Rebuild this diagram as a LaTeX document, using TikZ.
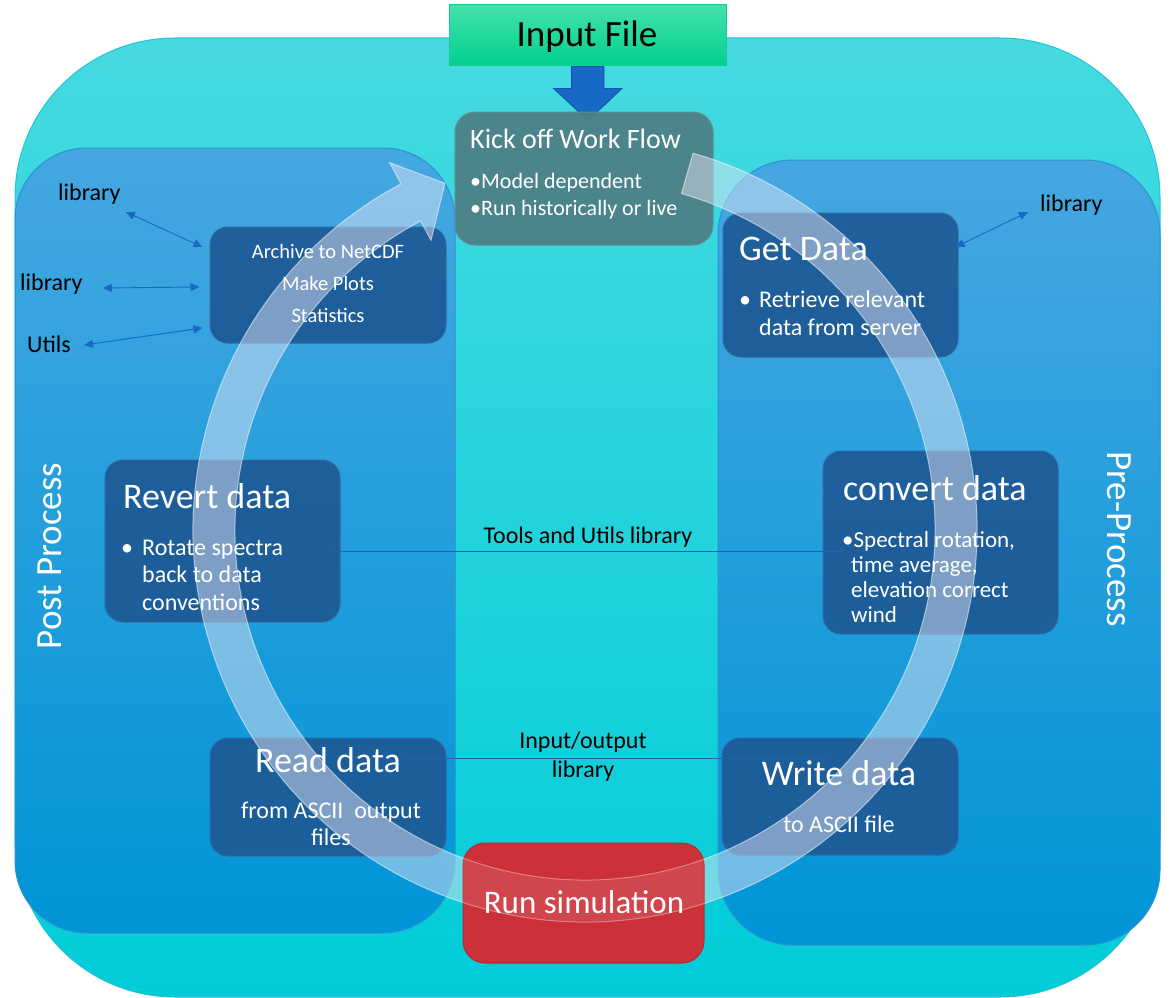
\documentclass[tikz,border=0pt]{standalone}
\usepackage{fontspec}
\setmainfont{Carlito}
\usetikzlibrary{calc,arrows.meta}
\definecolor{outerT}{HTML}{46DAE0}
\definecolor{outerB}{HTML}{00CCD8}
\definecolor{outerE}{HTML}{22C4D6}
\definecolor{panelT}{HTML}{45A7E1}
\definecolor{panelB}{HTML}{0095D7}
\definecolor{panelE}{HTML}{2A92D2}
\definecolor{boxblue}{HTML}{1D5A96}
\definecolor{boxedge}{HTML}{2E6AA4}
\definecolor{kickfill}{HTML}{4D7E84}
\definecolor{kickedge}{HTML}{5D8E94}
\definecolor{greenT}{HTML}{44E2AA}
\definecolor{greenB}{HTML}{00CF8E}
\definecolor{greenE}{HTML}{22C596}
\definecolor{redfill}{HTML}{CC3038}
\definecolor{rededge}{HTML}{B82A30}
\definecolor{arrowblue}{HTML}{1868C6}
\definecolor{arrowedge}{HTML}{0E57AA}
\definecolor{linkblue}{HTML}{1E62C0}
\definecolor{bandc}{HTML}{E8E6F4}
\newcommand\fsz[1]{\fontsize{#1}{#1}\selectfont}
\newcommand\bandpath{($(C)+(-74:392)$) arc[start angle=-74, end angle=242, radius=392]
  -- ($(C)+(242:416)$) -- ($(C)+(248:374)$) -- ($(C)+(242:328)$) -- ($(C)+(242:350)$)
  arc[start angle=242, end angle=-74, radius=350] -- cycle}
\begin{document}
\begin{tikzpicture}[x=1pt,y=-1pt,
  lbl/.style={inner sep=0, text=black, font=\fsz{24}},
  wtxt/.style={inner sep=0, text=white},
  boxstyle/.style={rounded corners=18pt, fill=boxblue, draw=boxedge, line width=1pt, fill opacity=0.93, inner sep=0},
  dbl/.style={{Triangle[length=9pt,width=8pt]}-{Triangle[length=9pt,width=8pt]}, draw=arrowblue, line width=0.9pt},
  linkline/.style={draw=linkblue, line width=0.9pt},
  bandstyle/.style={fill=bandc, fill opacity=0.48, draw=white, draw opacity=0.5, line width=1pt},
  bandonred/.style={fill=white, fill opacity=0.1, draw=white, draw opacity=0.35, line width=1pt}
]
\useasboundingbox (0,0) rectangle (1173,998);

% outer rounded background
\shade[top color=outerT, bottom color=outerB, draw=outerE, line width=1pt, rounded corners=160pt]
  (15,38) rectangle (1160,997);
% side panels
\shade[top color=panelT, bottom color=panelB, draw=panelE, line width=1pt, rounded corners=72pt]
  (15,148) rectangle (455,933);
\shade[top color=panelT, bottom color=panelB, draw=panelE, line width=1pt, rounded corners=75pt]
  (718,160) rectangle (1160,945);

% input file and arrow
\node[inner sep=0, minimum width=277pt, minimum height=61pt, top color=greenT, bottom color=greenB, draw=greenE, line width=1pt] (input) at (587.5,35.5) {};
\draw[fill=arrowblue, draw=arrowedge, line width=0.8pt]
  ($(input.south)+(-16,0)$) -- ++(0,22) -- ++(-18,0) -- ($(input.south)+(0.5,54)$)
  -- ($(input.south)+(34.5,22)$) -- ++(-18,0) -- ($(input.south)+(16.5,0)$) -- cycle;

% kick off
\node[rounded corners=20pt, fill=kickfill, draw=kickedge, line width=1pt, fill opacity=0.92, inner sep=0,
  minimum width=258pt, minimum height=133pt] (kick) at (584,178.5) {};

% process boxes
\node[boxstyle, minimum width=236pt, minimum height=116pt] (archive) at (328,285) {};
\node[boxstyle, minimum width=235pt, minimum height=162pt] (revert) at (222.5,541) {};
\node[boxstyle, minimum width=236pt, minimum height=118pt] (read) at (328,797) {};
\node[boxstyle, minimum width=235pt, minimum height=144pt] (getdata) at (840.5,285) {};
\node[boxstyle, minimum width=235pt, minimum height=183pt] (convert) at (940.5,542.5) {};
\node[boxstyle, minimum width=236pt, minimum height=117pt] (write) at (840,796.5) {};

% labels outside boxes
\node[lbl, anchor=base west] (lib1) at (58,200) {library};
\node[lbl, anchor=base west] (lib2) at (20,290) {library};
\node[lbl, anchor=base west] (utils) at (27,352) {Utils};
\node[lbl, anchor=base west] (rlib) at (1040,211) {library};

% double arrows
\draw[dbl] ($(lib1.base east)+(5,12)$) -- ($(archive.west)+(-7,-38)$);
\draw[dbl] ($(lib2.base east)+(20,-2)$) -- ($(archive.west)+(-10,2)$);
\draw[dbl] ($(utils.base east)+(13,-7)$) -- ($(archive.west)+(-7,43)$);
\draw[dbl] ($(getdata.east)+(-3,-38)$) -- ($(rlib.base west)+(-12,1)$);

% connecting library lines
\draw[linkline] ($(revert.east)+(-7,10)$) -- ($(convert.west)+(20,8.5)$);
\draw[linkline] ($(read.east)+(-42,-39)$) -- ($(write.west)+(105,-38.5)$);

% big circular arrow
\coordinate (C) at (585,530);
\path[bandstyle] \bandpath;

% run simulation box, with the band faintly showing through
\node[rounded corners=22pt, fill=redfill, draw=rededge, line width=1pt, inner sep=0,
  minimum width=241pt, minimum height=120pt] (run) at (583.5,903) {};
\begin{scope}
  \clip[rounded corners=22pt] (run.south west) rectangle (run.north east);
  \path[bandonred] \bandpath;
\end{scope}

% texts
\node[inner sep=0, text=black, font=\fsz{37}, anchor=base] (inputtxt) at (587,47) {Input File};

\node[wtxt, font=\fsz{28}, anchor=base west] (kickt) at (470,148) {Kick off Work Flow};
\node[wtxt, font=\fsz{22}, anchor=base west] (kick1) at (470,188) {•Model dependent};
\node[wtxt, font=\fsz{22}, anchor=base west] (kick2) at (470,215) {•Run historically or live};

\node[wtxt, font=\fsz{20.5}, anchor=base] (arch1) at (328,258) {Archive to NetCDF};
\node[wtxt, font=\fsz{20.5}, anchor=base] (arch2) at (328,290) {Make Plots};
\node[wtxt, font=\fsz{20.5}, anchor=base] (arch3) at (328,322) {Statistics};

\node[wtxt, font=\fsz{36}, anchor=base west] (gett) at (739,260) {Get Data};
\node[wtxt, font=\fsz{24}, anchor=base] (getb) at (745,307) {•};
\node[wtxt, font=\fsz{24}, anchor=base west] (get1) at (759,307) {Retrieve relevant};
\node[wtxt, font=\fsz{24}, anchor=base west] (get2) at (759,335) {data from server};

\node[wtxt, font=\fsz{36}, anchor=base west] (convt) at (843,500) {convert data};
\node[wtxt, font=\fsz{23}, anchor=base west] (conv1) at (842,547) {•Spectral rotation,};
\node[wtxt, font=\fsz{23}, anchor=base west] (conv2) at (851,572) {time average,};
\node[wtxt, font=\fsz{23}, anchor=base west] (conv3) at (851,597) {elevation correct};
\node[wtxt, font=\fsz{23}, anchor=base west] (conv4) at (851,622) {wind};

\node[wtxt, font=\fsz{36}, anchor=base west] (revt) at (123,508) {Revert data};
\node[wtxt, font=\fsz{24}, anchor=base] (revb) at (127,555) {•};
\node[wtxt, font=\fsz{24}, anchor=base west] (rev1) at (142,555) {Rotate spectra};
\node[wtxt, font=\fsz{24}, anchor=base west] (rev2) at (142,582) {back to data};
\node[wtxt, font=\fsz{24}, anchor=base west] (rev3) at (142,610) {conventions};

\node[wtxt, font=\fsz{36}, anchor=base] (readt) at (328,772) {Read data};
\node[wtxt, font=\fsz{24}, anchor=base] (read1) at (331,818) {from ASCII\ \ output};
\node[wtxt, font=\fsz{24}, anchor=base] (read2) at (331,845) {files};

\node[wtxt, font=\fsz{36}, anchor=base] (writet) at (839,785) {Write data};
\node[wtxt, font=\fsz{24}, anchor=base] (write1) at (839,832) {to ASCII file};

\node[wtxt, font=\fsz{33}, anchor=base] (runt) at (584,913) {Run simulation};

\node[lbl, anchor=base] (tools) at (588,543) {Tools and Utils library};
\node[lbl, anchor=base] (io1) at (583,748) {Input/output};
\node[lbl, anchor=base] (io2) at (583,777) {library};

\node[wtxt, font=\fsz{37}, rotate=90] (post) at (50,556) {Post Process};
\node[wtxt, font=\fsz{37}, rotate=-90] (pre) at (1119,539) {Pre-Process};
\end{tikzpicture}
\end{document}
